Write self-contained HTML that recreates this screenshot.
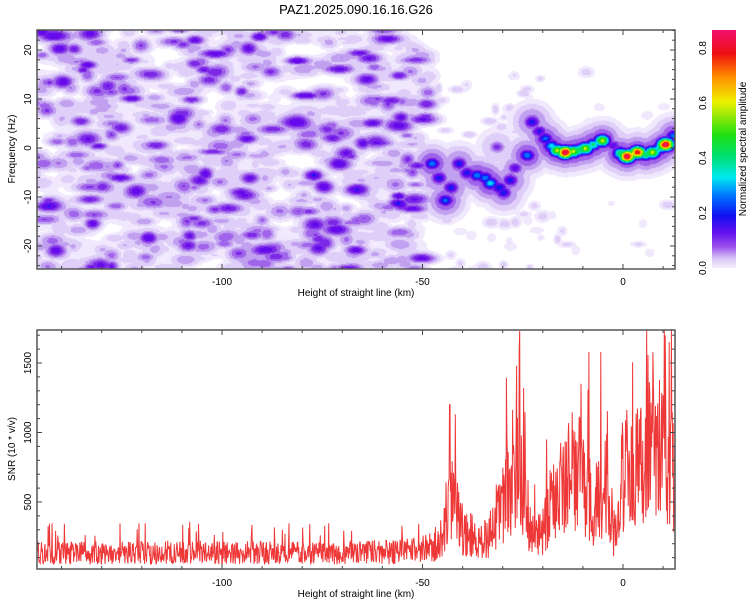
<!DOCTYPE html>
<html><head><meta charset="utf-8">
<style>
body{margin:0;background:#fff;width:750px;height:600px;overflow:hidden;font-family:"Liberation Sans",sans-serif}
#wrap{position:relative;width:750px;height:600px}
canvas{position:absolute;left:0;top:0}
svg{position:absolute;left:0;top:0}
</style></head>
<body>
<div id="wrap">
<canvas id="spec" width="750" height="600"></canvas>
<svg id="svg" width="750" height="600">
<defs>
<linearGradient id="cbg" x1="0" y1="1" x2="0" y2="0">
<stop offset="0" stop-color="#f4eefd"/>
<stop offset="0.04" stop-color="#d9c6f7"/>
<stop offset="0.09" stop-color="#9a50ec"/>
<stop offset="0.15" stop-color="#6010f0"/>
<stop offset="0.22" stop-color="#1010f0"/>
<stop offset="0.30" stop-color="#0070ff"/>
<stop offset="0.38" stop-color="#00e8f0"/>
<stop offset="0.47" stop-color="#00e070"/>
<stop offset="0.56" stop-color="#20e010"/>
<stop offset="0.70" stop-color="#f0f000"/>
<stop offset="0.80" stop-color="#ff9000"/>
<stop offset="0.90" stop-color="#f01010"/>
<stop offset="1" stop-color="#f01070"/>
</linearGradient>
</defs>
<text x="356" y="14" font-size="13" text-anchor="middle">PAZ1.2025.090.16.16.G26</text>
<g id="top"></g>
<g id="bot"></g>
<rect x="712" y="30" width="24" height="238" fill="url(#cbg)"/>
<g id="cb"></g>
<text transform="translate(746,149) rotate(-90)" font-size="10" text-anchor="middle">Normalized spectral amplitude</text>
</svg>
</div>
<script>
// ---------- data ----------
const xTicks = [-100, -50, 0];
const freqTicks = [-20, -10, 0, 10, 20];
const snrTicks = [500, 1000, 1500];
const cbTicks = [0.0, 0.2, 0.4, 0.6, 0.8];
// signal ridge in spectrogram: height (km), frequency (Hz), amplitude
const ridgeH = [-47.7,-46,-44.4,-43,-41,-39,-36.5,-34.5,-33.2,-31,-29.9,-28.2,-27,-31.5,-24,-22.8,-21,-19.5,-18,-16.5,-14.5,-12.5,-11,-9.5,-7.5,-5.3,-2.5,-0.7,0.9,2,3.5,5.5,7.2,9,10.5,12.5];
const ridgeF = [-3.1,-6,-10.6,-8,-3.1,-5,-5.5,-6,-7.1,-8,-9,-6.5,-4,0.3,-1.4,5.4,3.5,2,0.5,-0.4,-0.8,-0.6,-0.3,0,0.8,1.6,0.6,-1,-1.6,-1.2,-0.8,-1.2,-0.8,0,0.8,2.6];
const ridgeA = [0.36,0.3,0.34,0.3,0.3,0.3,0.36,0.36,0.4,0.32,0.3,0.3,0.25,0.2,0.36,0.3,0.28,0.34,0.4,0.6,0.85,0.6,0.5,0.6,0.45,0.6,0.25,0.5,0.85,0.6,0.8,0.5,0.6,0.45,0.85,0.35];
// SNR envelope: height (km), mean level
const snrH = [-146,-130,-110,-90,-70,-55,-50,-47,-45,-43,-41,-40,-37,-35,-32,-30,-28,-27,-25,-23,-22,-20,-17,-14,-12,-9,-7,-5,-3,-2,0,3,5,7,10,12,13];
const snrMean = [140,140,145,140,140,150,165,200,277,600,450,320,260,230,330,490,650,900,700,300,250,320,580,700,820,600,500,530,430,250,760,820,860,930,880,820,700];
// SNR prominent peaks: height (km), value
const peakH = [-43.2,-41.8,-26.5,-25.8,-24.8,-8.5,-5.5,7.5,10.5,11.5];
const peakV = [1200,1130,1480,1730,1320,1580,1580,1580,1700,1650];

// ---------- scales ----------
const X0=37, X1=675;
const xs = h => 623 + h*4.01;
const fy = f => 148 - f*4.9;
const sy = v => 502 - (v-500)*0.139;
const cy = v => 268 - v*(220/0.8);

function mulberry(a){return function(){a|=0;a=a+0x6D2B79F5|0;let t=Math.imul(a^a>>>15,1|a);t=t+Math.imul(t^t>>>7,61|t)^t;return((t^t>>>14)>>>0)/4294967296;}}
const rnd = mulberry(12345);

// ---------- spectrogram ----------
const W=X1-X0, H=269-30;
const field = new Float32Array(W*H);
function blob(h,f,a,sxk,syh,add){
  const cx=xs(h)-X0, cyy=fy(f)-30, sx=sxk*4.01, syy=syh*4.9;
  const x0=Math.max(0,Math.floor(cx-3*sx)), x1=Math.min(W-1,Math.ceil(cx+3*sx));
  const y0=Math.max(0,Math.floor(cyy-3*syy)), y1=Math.min(H-1,Math.ceil(cyy+3*syy));
  for(let y=y0;y<=y1;y++){const dy=(y-cyy)/syy;for(let x=x0;x<=x1;x++){const dx=(x-cx)/sx;const v=a*Math.exp(-0.5*(dx*dx+dy*dy));const k=y*W+x;
    if(add) field[k]+=v; else if(v>field[k])field[k]=v;}}
}
// background noise texture (decorative)
for(let i=0;i<700;i++){
  const h=-147+rnd()*99, f=-25.5+rnd()*51;
  const r=rnd(); const a=0.045+0.18*r*r*r+0.03*rnd();
  blob(h,f,a,1.3+rnd()*1.7,0.55+rnd()*0.6);
}
for(let i=0;i<400;i++){
  const h=-147+rnd()*99, f=-25.5+rnd()*51;
  blob(h,f,0.018,1.5+rnd()*1.5,0.8+rnd()*0.6,true);
}
for(let i=0;i<110;i++){
  const h=-48+rnd()*60, f=(rnd()<0.5? 2+rnd()*14 : -25+rnd()*14);
  if(h>-20 && rnd()<0.7) continue;
  blob(h,f,0.045+0.05*rnd(),0.7+rnd()*1.0,0.5+rnd()*0.5);
}
for(let i=0;i<ridgeH.length;i++){
  blob(ridgeH[i],ridgeF[i],Math.min(0.21,ridgeA[i]*0.55),3.4,2.6);
  blob(ridgeH[i],ridgeF[i],ridgeA[i],1.6,1.0);
}
const levels=[[0.03,null],[0.06,[240,232,252]],[0.1,[222,206,248]],[0.14,[194,160,240]],[0.18,[160,100,234]],[0.22,[124,40,230]],[0.27,[100,10,236]],[0.32,[30,20,240]],[0.37,[0,110,255]],[0.43,[0,220,240]],[0.5,[0,224,110]],[0.58,[40,224,20]],[0.66,[230,240,0]],[0.74,[255,160,0]],[0.82,[245,20,20]],[99,[240,20,110]]];
function col(v){if(v<levels[0][0])return null;for(let i=1;i<levels.length;i++){if(v<levels[i][0])return levels[i][1];}return levels[levels.length-1][1];}
const ctx=document.getElementById('spec').getContext('2d');
const img=ctx.createImageData(W,H);
for(let i=0;i<W*H;i++){const c=col(field[i]);if(c){img.data[i*4]=c[0];img.data[i*4+1]=c[1];img.data[i*4+2]=c[2];img.data[i*4+3]=255;}}
ctx.putImageData(img,X0,30);

// ---------- SNR trace ----------
function interp(h){for(let i=0;i<snrH.length-1;i++){if(h>=snrH[i]&&h<=snrH[i+1]){const t=(h-snrH[i])/(snrH[i+1]-snrH[i]);return snrMean[i]+t*(snrMean[i+1]-snrMean[i]);}}return snrMean[snrMean.length-1];}
let pts=[];
for(let h=-146;h<=13.1;h+=0.11){
  const m=interp(h); let v=m*(0.35+1.2*rnd());
  if(rnd()<0.04) v=m*(1.7+0.8*rnd());
  for(let k=0;k<peakH.length;k++){ if(Math.abs(h-peakH[k])<0.06) v=peakV[k]; }
  v=Math.max(0,Math.min(1740,v));
  pts.push([xs(h),sy(v)]);
}
const NS='http://www.w3.org/2000/svg';
const svg=document.getElementById('svg');
const bot=document.getElementById('bot');
const top_=document.getElementById('top');
const cp=document.createElementNS(NS,'clipPath');cp.setAttribute('id','bclip');
const cr=document.createElementNS(NS,'rect');cr.setAttribute('x',X0);cr.setAttribute('y',330);cr.setAttribute('width',W);cr.setAttribute('height',239);cp.appendChild(cr);svg.querySelector('defs').appendChild(cp);
const line=document.createElementNS(NS,'polyline');


line.setAttribute('points',pts.map(p=>p[0].toFixed(1)+','+p[1].toFixed(1)).join(' '));
line.setAttribute('fill','none');line.setAttribute('stroke','rgba(236,34,34,0.9)');line.setAttribute('stroke-width','1');line.setAttribute('clip-path','url(#bclip)');
bot.appendChild(line);

// ---------- axes ----------
function L(g,x1,y1,x2,y2,w,name){const l=document.createElementNS(NS,'line');l.setAttribute('x1',x1);l.setAttribute('y1',y1);l.setAttribute('x2',x2);l.setAttribute('y2',y2);l.setAttribute('stroke','#444');l.setAttribute('stroke-width',w||1);


g.appendChild(l);}
function T(g,x,y,s,rot,name,anchor){const t=document.createElementNS(NS,'text');t.setAttribute('font-size','10');t.setAttribute('text-anchor',anchor||'middle');
if(rot){t.setAttribute('transform','translate('+x+','+y+') rotate(-90)');}else{t.setAttribute('x',x);t.setAttribute('y',y);}
t.textContent=s;


g.appendChild(t);}
function frame(g,yt,yb,name){const r=document.createElementNS(NS,'rect');r.setAttribute('x',X0);r.setAttribute('y',yt);r.setAttribute('width',W);r.setAttribute('height',yb-yt);r.setAttribute('fill','none');r.setAttribute('stroke','#555');r.setAttribute('stroke-width','1.5');


g.appendChild(r);}
function xAxis(g,yt,yb,labY){
  for(let h=-140;h<=10;h+=10){const x=xs(h);const len=(h%50===0)?5:3;L(g,x,yt,x,yt+len,1);L(g,x,yb,x,yb-len,1);}
  xTicks.forEach(h=>T(g,xs(h),labY,String(h),false,'x-tick-label'));
  T(g,356,labY+11,'Height of straight line (km)',false,'x-axis-title');
}
frame(top_,30,269,'spectrogram-frame');
xAxis(top_,30,269,285);
for(let f=-24;f<=24;f+=2){const y=fy(f);const len=(f%10===0)?5:3;L(top_,X0,y,X0+len,y);L(top_,X1,y,X1-len,y);}
freqTicks.forEach(f=>T(top_,31,fy(f),String(f),true,'y-tick-label'));
T(top_,15,149,'Frequency (Hz)',true,'y-axis-title');

frame(bot,330,569,'snr-frame');
xAxis(bot,330,569,586);
for(let v=100;v<=1700;v+=100){const y=sy(v);const len=(v%500===0)?5:3;L(bot,X0,y,X0+len,y);L(bot,X1,y,X1-len,y);}
snrTicks.forEach(v=>T(bot,31,sy(v),String(v),true,'y-tick-label'));
T(bot,15,449,'SNR (10 * v/v)',true,'y-axis-title');

const cb=document.getElementById('cb');
cbTicks.forEach(v=>T(cb,706,cy(v),v.toFixed(1),true,'colorbar-tick-label'));
</script>
</body></html>
